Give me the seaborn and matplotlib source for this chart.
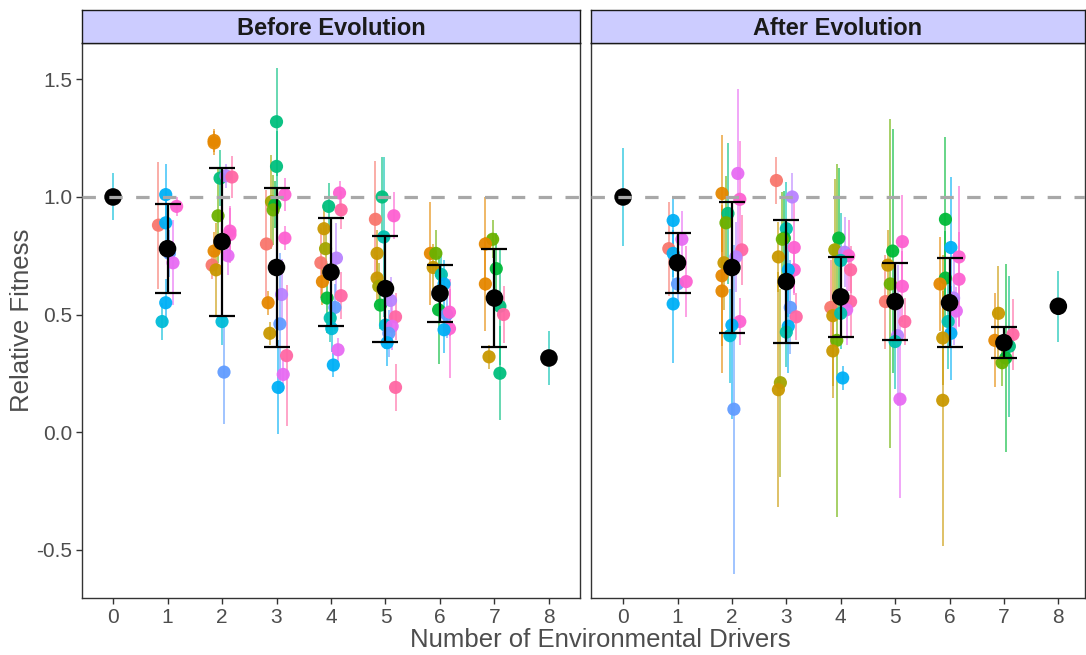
import numpy as np
import pandas as pd
import matplotlib
matplotlib.use("Agg")
import matplotlib.pyplot as plt
import seaborn as sns

# ---------------- data ----------------
drivers = [0, 1, 2, 3, 4, 5, 6, 7, 8]
tick_labels = ["0", "1", "2", "3", "4", "5", "6", "7", "8"]
y_ticks = [-0.5, 0.0, 0.5, 1.0, 1.5]
y_tick_labels = ["-0.5", "0.0", "0.5", "1.0", "1.5"]
panel_titles = ["Before Evolution", "After Evolution"]

# per treatment: fitness, standard error, treatment group (colour level); one inner list per driver count
before_fitness = [
    [1.00],
    [1.01, 0.96, 0.88, 0.89, 0.76, 0.72, 0.55, 0.47],
    [1.24, 1.23, 1.08, 1.09, 1.085, 0.92, 0.855, 0.84, 0.77, 0.75, 0.71, 0.69, 0.47, 0.255],
    [1.32, 1.13, 0.98, 0.966, 0.945, 1.01, 0.80, 0.825, 0.55, 0.585, 0.42, 0.46, 0.325, 0.245, 0.19],
    [1.017, 0.96, 0.945, 0.865, 0.78, 0.72, 0.64, 0.57, 0.74, 0.58, 0.53, 0.485, 0.44, 0.35, 0.285],
    [1.00, 0.92, 0.905, 0.83, 0.76, 0.655, 0.62, 0.54, 0.56, 0.49, 0.455, 0.45, 0.42, 0.38, 0.19],
    [0.76, 0.76, 0.70, 0.67, 0.63, 0.52, 0.50, 0.51, 0.44, 0.435],
    [0.82, 0.80, 0.695, 0.63, 0.535, 0.50, 0.32, 0.25],
    [0.315],
]
before_se = [
    [0.10],
    [0.13, 0.04, 0.27, 0.10, 0.10, 0.18, 0.10, 0.08],
    [0.05, 0.05, 0.12, 0.05, 0.09, 0.20, 0.10, 0.12, 0.08, 0.08, 0.06, 0.20, 0.10, 0.22],
    [0.23, 0.15, 0.20, 0.10, 0.15, 0.07, 0.23, 0.05, 0.05, 0.15, 0.05, 0.30, 0.30, 0.07, 0.20],
    [0.05, 0.10, 0.08, 0.10, 0.10, 0.15, 0.10, 0.15, 0.15, 0.10, 0.10, 0.10, 0.10, 0.05, 0.05],
    [0.17, 0.10, 0.25, 0.34, 0.10, 0.10, 0.10, 0.10, 0.10, 0.10, 0.10, 0.10, 0.10, 0.10, 0.10],
    [0.22, 0.10, 0.10, 0.10, 0.10, 0.23, 0.10, 0.10, 0.21, 0.10],
    [0.08, 0.20, 0.15, 0.20, 0.25, 0.12, 0.05, 0.20],
    [0.115],
]
before_group = [
    [8],
    [9, 13, 0, 9, 10, 12, 9, 8],
    [1, 1, 6, 11, 14, 4, 13, 13, 1, 12, 0, 2, 8, 10],
    [6, 6, 3, 5, 4, 13, 0, 13, 1, 11, 2, 10, 14, 12, 9],
    [13, 6, 14, 2, 3, 0, 1, 5, 11, 14, 10, 7, 8, 12, 9],
    [6, 13, 0, 7, 2, 2, 3, 5, 11, 14, 8, 12, 10, 9, 14],
    [1, 4, 2, 7, 9, 5, 10, 13, 13, 9],
    [4, 1, 5, 1, 6, 14, 2, 6],
    [7],
]
after_fitness = [
    [1.00],
    [0.90, 0.82, 0.78, 0.76, 0.63, 0.64, 0.545],
    [1.10, 1.015, 0.99, 0.93, 0.89, 0.775, 0.745, 0.72, 0.665, 0.60, 0.47, 0.455, 0.41, 0.097],
    [1.07, 1.00, 0.865, 0.825, 0.82, 0.785, 0.745, 0.69, 0.69, 0.53, 0.49, 0.45, 0.425, 0.21, 0.18],
    [0.825, 0.775, 0.765, 0.75, 0.69, 0.73, 0.53, 0.555, 0.52, 0.495, 0.505, 0.39, 0.345, 0.23],
    [0.81, 0.77, 0.71, 0.63, 0.62, 0.555, 0.47, 0.41, 0.385, 0.14],
    [0.905, 0.785, 0.745, 0.655, 0.65, 0.63, 0.57, 0.515, 0.47, 0.42, 0.40, 0.135],
    [0.505, 0.415, 0.39, 0.365, 0.315, 0.295],
    [0.535],
]
after_se = [
    [0.21],
    [0.10, 0.12, 0.20, 0.10, 0.10, 0.15, 0.25],
    [0.36, 0.25, 0.25, 0.30, 0.20, 0.15, 0.15, 0.20, 0.30, 0.35, 0.10, 0.40, 0.20, 0.70],
    [0.10, 0.10, 0.20, 0.20, 0.20, 0.20, 0.15, 0.10, 0.20, 0.20, 0.10, 0.20, 0.15, 0.40, 0.50],
    [0.30, 0.30, 0.15, 0.15, 0.10, 0.20, 0.20, 0.15, 0.15, 0.30, 0.15, 0.75, 0.20, 0.05],
    [0.20, 0.52, 0.15, 0.70, 0.15, 0.20, 0.10, 0.30, 0.20, 0.42],
    [0.35, 0.30, 0.30, 0.20, 0.20, 0.20, 0.20, 0.10, 0.20, 0.20, 0.20, 0.62],
    [0.20, 0.15, 0.20, 0.30, 0.40, 0.10],
    [0.15],
]
after_group = [
    [8],
    [9, 12, 0, 9, 10, 13, 9],
    [12, 1, 13, 6, 4, 14, 11, 2, 1, 1, 13, 9, 8, 10],
    [0, 11, 7, 5, 4, 13, 2, 13, 9, 10, 14, 9, 7, 3, 2],
    [5, 3, 11, 13, 14, 7, 0, 14, 12, 2, 7, 4, 2, 9],
    [13, 5, 2, 4, 13, 0, 14, 11, 7, 12],
    [5, 9, 13, 5, 13, 1, 11, 12, 7, 9, 2, 2],
    [2, 14, 1, 6, 5, 4],
    [7],
]
# overall mean and SD per driver count
before_mean = [1.00, 0.78, 0.81, 0.70, 0.68, 0.61, 0.59, 0.57, 0.315]
before_sd = [np.nan, 0.19, 0.315, 0.34, 0.23, 0.225, 0.12, 0.21, np.nan]
after_mean = [1.00, 0.72, 0.70, 0.64, 0.575, 0.555, 0.55, 0.38, 0.535]
after_sd = [np.nan, 0.128, 0.278, 0.26, 0.17, 0.165, 0.19, 0.065, np.nan]
reference_line = 1.0

# ---------------- styling ----------------
palette = ["#F8766D", "#E58700", "#C99800", "#A3A500", "#6BB100", "#00BA38", "#00BF7D",
           "#00C0AF", "#00BCD8", "#00B0F6", "#619CFF", "#B983FF", "#E76BF3", "#FD61D1", "#FF67A4"]
pal = {i: c for i, c in enumerate(palette)}
DODGE = 0.4

sns.set_theme(style="white")
plt.rcParams["font.family"] = ["Liberation Sans", "DejaVu Sans"]


def build(fit, se, grp):
    rows = []
    for d, fl, sl, gl in zip(drivers, fit, se, grp):
        levels = sorted(set(gl))
        n = len(levels)
        for f, s, g in zip(fl, sl, gl):
            r = levels.index(g)
            off = (r + 0.5) / n * DODGE - DODGE / 2 if n > 1 else 0.0
            rows.append(dict(drivers=d, xd=d + off, fitness=f, se=s, group=g))
    return pd.DataFrame(rows)


data = [
    (build(before_fitness, before_se, before_group), before_mean, before_sd),
    (build(after_fitness, after_se, after_group), after_mean, after_sd),
]

W, H = 1086, 655
fig = plt.figure(figsize=(W / 100, H / 100), dpi=100)
panel_px = [(82, 498, (-0.57, 8.57)), (591, 494, (-0.59, 8.49))]
bottom_px, top_px, strip_h = 598, 43, 33

for i, ((df, mean, sd), (left, width, xlim)) in enumerate(zip(data, panel_px)):
    ax = fig.add_axes([left / W, (H - bottom_px) / H, width / W, (bottom_px - top_px) / H])
    sax = fig.add_axes([left / W, (H - top_px) / H, width / W, strip_h / H])

    # treatment error bars
    ax.vlines(df["xd"], df["fitness"] - df["se"], df["fitness"] + df["se"],
              colors=[pal[g] for g in df["group"]], lw=1.4, alpha=0.6, zorder=2)
    sns.scatterplot(data=df, x="xd", y="fitness", hue="group", palette=pal, s=90,
                    edgecolor="none", alpha=0.95, legend=False, ax=ax, zorder=3)
    # mean +- sd
    ax.errorbar(drivers, mean, yerr=sd, fmt="none", ecolor="black", elinewidth=1.6,
                capsize=9.5, capthick=1.6, zorder=4)
    sns.scatterplot(x=drivers, y=mean, color="black", s=160, edgecolor="none",
                    legend=False, ax=ax, zorder=5)
    ax.axhline(reference_line, color="#A8A8A8", lw=2.3, ls=(0, (4.2, 4.2)), zorder=6)

    ax.set_xlim(*xlim)
    ax.set_ylim(-0.706, 1.655)
    ax.set_xticks(drivers)
    ax.set_xticklabels(tick_labels)
    ax.set_yticks(y_ticks)
    ax.set_yticklabels(y_tick_labels if i == 0 else [])
    ax.set_xlabel("")
    ax.set_ylabel("")
    ax.grid(False)
    for sp in ax.spines.values():
        sp.set_color("#333333")
        sp.set_linewidth(1.0)
    ax.tick_params(axis="both", direction="out", length=4, width=1, color="#333333",
                   labelsize=15, labelcolor="#4D4D4D", pad=3,
                   left=(i == 0), bottom=True)

    sax.set_facecolor("#CCCCFF")
    sax.set_xticks([])
    sax.set_yticks([])
    for sp in sax.spines.values():
        sp.set_color("#1A1A1A")
        sp.set_linewidth(1.0)
    sax.text(0.5, 0.45, panel_titles[i], ha="center", va="center", fontsize=17,
             fontweight="bold", color="#1A1A1A", transform=sax.transAxes)

fig.text(600 / W, 1 - 640 / H, "Number of Environmental Drivers", ha="center", va="center",
         fontsize=18.5, color="#4D4D4D")
fig.text(22 / W, 1 - 320 / H, "Relative Fitness", ha="center", va="center",
         rotation=90, fontsize=18.5, color="#4D4D4D")

fig.savefig("out.png", dpi=100)
